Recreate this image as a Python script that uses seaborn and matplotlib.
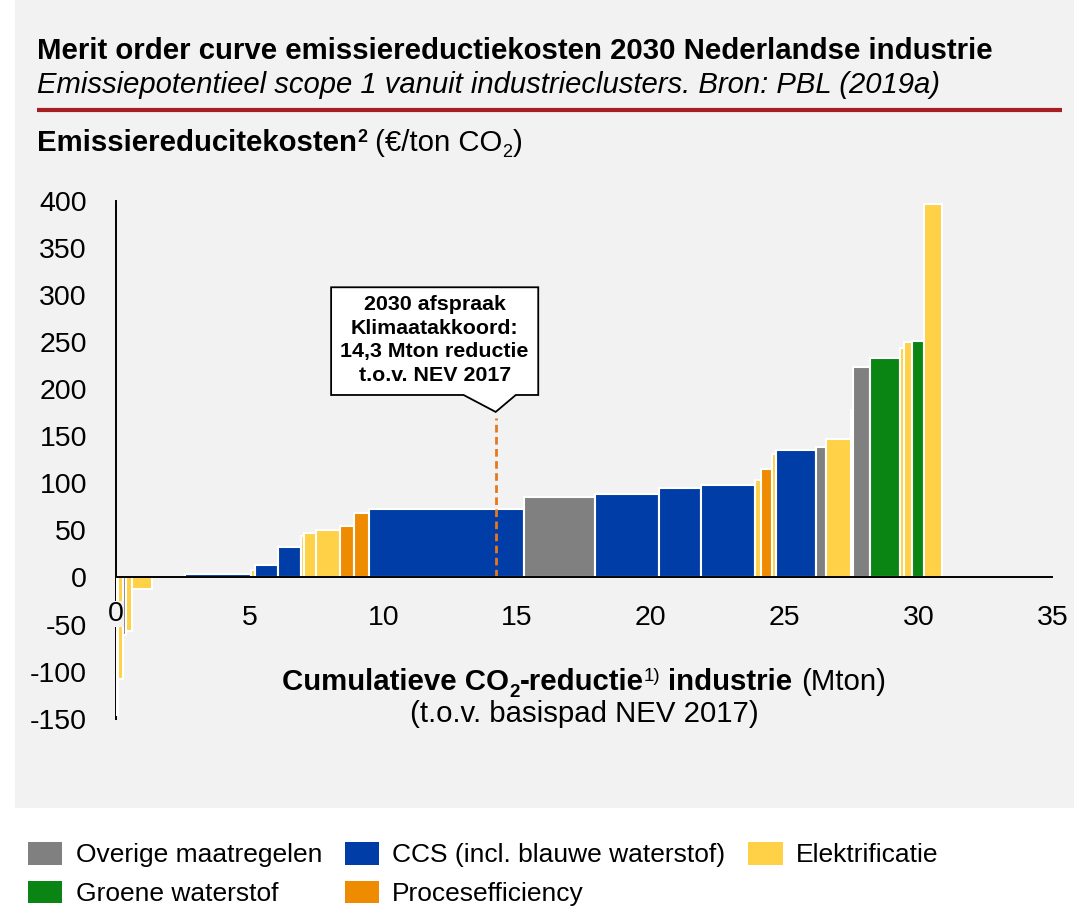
import numpy as np
import pandas as pd
import matplotlib
matplotlib.use("Agg")
import matplotlib.pyplot as plt
import seaborn as sns
from matplotlib.patches import Rectangle, Polygon, Patch
from matplotlib.lines import Line2D
from matplotlib.transforms import IdentityTransform

# ---------------- data ----------------
categories = ["Overige maatregelen", "CCS (incl. blauwe waterstof)", "Elektrificatie",
              "Groene waterstof", "Procesefficiency"]
bar_category = ["Elektrificatie", "Elektrificatie", "Overige maatregelen", "Elektrificatie", "Elektrificatie",
                "", "CCS (incl. blauwe waterstof)", "Elektrificatie", "CCS (incl. blauwe waterstof)",
                "CCS (incl. blauwe waterstof)", "Elektrificatie", "Elektrificatie", "Elektrificatie",
                "Procesefficiency", "Procesefficiency", "CCS (incl. blauwe waterstof)", "Overige maatregelen",
                "CCS (incl. blauwe waterstof)", "CCS (incl. blauwe waterstof)", "CCS (incl. blauwe waterstof)",
                "Elektrificatie", "Procesefficiency", "Elektrificatie", "CCS (incl. blauwe waterstof)",
                "Overige maatregelen", "Elektrificatie", "Elektrificatie", "Overige maatregelen",
                "Groene waterstof", "Elektrificatie", "Elektrificatie", "Groene waterstof", "Elektrificatie"]
bar_width_mton = [0.08, 0.19, 0.13, 0.21, 0.75,
                  1.23, 2.48, 0.13, 0.85,
                  0.87, 0.13, 0.45, 0.88,
                  0.52, 0.55, 5.81, 2.64,
                  2.39, 1.58, 2.02,
                  0.21, 0.43, 0.15, 1.49,
                  0.37, 0.92, 0.11, 0.62,
                  1.12, 0.13, 0.30, 0.45, 0.67]
bar_cost = [-146, -108, -61, -57, -12,
            0, 4, 8, 13.5,
            32.5, 44, 47, 51,
            55, 69, 72.5, 85.6,
            88.4, 95, 98.6,
            103.5, 115.5, 131, 135,
            138.6, 147, 178, 223.4,
            233, 244, 250, 251, 396.6]
target_mton = 14.2
x_ticks = [0, 5, 10, 15, 20, 25, 30, 35]
y_ticks = [-150, -100, -50, 0, 50, 100, 150, 200, 250, 300, 350, 400]

colors = {"Overige maatregelen": "#808080", "CCS (incl. blauwe waterstof)": "#003DA6",
          "Elektrificatie": "#FFD147", "Groene waterstof": "#0A8413", "Procesefficiency": "#EE8B00",
          "": "none"}

df = pd.DataFrame({"cat": bar_category, "width": bar_width_mton, "cost": bar_cost})
df["start"] = np.concatenate([[0], np.cumsum(df["width"].values)[:-1]])

# ---------------- style ----------------
sns.set_style("white")
plt.rcParams["font.family"] = ["Liberation Sans", "DejaVu Sans"]
plt.rcParams["lines.scale_dashes"] = False
for k in ["text.color", "axes.labelcolor", "xtick.color", "ytick.color", "axes.edgecolor"]:
    plt.rcParams[k] = "black"

W, H = 1074, 909
fig = plt.figure(figsize=(W / 100, H / 100), dpi=100)
fig.patch.set_facecolor("white")

PANEL = "#F2F2F2"
fig.add_artist(Rectangle((15 / W, 1 - 808 / H), 1 - 15 / W, 808 / H, transform=fig.transFigure,
                         facecolor=PANEL, edgecolor="none", zorder=-10))
fig.add_artist(Line2D([37 / W, 1062 / W], [1 - 110 / H] * 2, transform=fig.transFigure,
                      color="#A41E22", lw=3, solid_capstyle="butt"))

ax_l, ax_r, ax_t, ax_b = 115.7, 1052.3, 201.2, 718.6
ax = fig.add_axes([ax_l / W, 1 - ax_b / H, (ax_r - ax_l) / W, (ax_b - ax_t) / H])
ax.set_facecolor("none")

ax.bar(df["start"], df["cost"], width=df["width"], align="edge",
       color=[colors[c] for c in df["cat"]],
       edgecolor=[("white" if c else "none") for c in df["cat"]], linewidth=1.5, zorder=3)

ax.set_xlim(0, 35)
ax.set_ylim(-150, 400)
ax.set_xticks(x_ticks)
ax.set_xticklabels([("" if t == 0 else str(t)) for t in x_ticks])
ax.set_yticks(y_ticks)
ax.set_yticklabels([str(t) for t in y_ticks])
sns.despine(ax=ax, top=True, right=True)
ax.spines["bottom"].set_position(("data", 0))
for s in ["left", "bottom"]:
    ax.spines[s].set_linewidth(1.4)
    ax.spines[s].set_color("black")
ax.spines["bottom"].set_zorder(5)
ax.spines["left"].set_zorder(2)
ax.tick_params(axis="both", labelsize=20.5, length=7.2, width=1.4, direction="out", color="black",
               labelcolor="black")
ax.tick_params(axis="y", pad=13.5)
ax.tick_params(axis="x", pad=12.6)
ax.grid(False)

# x tick label "0" drawn with a tight background (interrupts spine and thin bars)
ax.text(0, -38.8, "0", ha="center", va="center", fontsize=20.5, zorder=6,
        bbox=dict(facecolor=PANEL, edgecolor="none", pad=0.0))

# dashed target line and callout
line_top = 169.5
ax.plot([target_mton, target_mton], [0, line_top], color="#E5781E", lw=2.0, dashes=(5.5, 3.2), zorder=4)
bx0, bx1, by0, by1 = 8.05, 15.79, 194, 308.5
tip_y = 176
callout = Polygon([(bx0, by1), (bx1, by1), (bx1, by0), (target_mton + 0.75, by0), (target_mton, tip_y),
                   (target_mton - 1.2, by0), (bx0, by0)], closed=True, facecolor="white",
                  edgecolor="black", lw=1.3, zorder=4)
ax.add_patch(callout)
ax.text((bx0 + bx1) / 2, (by0 + by1) / 2 + 1,
        "2030 afspraak\nKlimaatakkoord:\n14,3 Mton reductie\nt.o.v. NEV 2017",
        ha="center", va="center", fontsize=15.4, fontweight="bold", linespacing=1.3, zorder=5)

# ---------------- rich text helper ----------------
renderer = fig.canvas.get_renderer()


def measure(s, size, weight="normal", style="normal"):
    t = fig.text(0, 0, s, fontsize=size, fontweight=weight, fontstyle=style)
    w = t.get_window_extent(renderer).width
    t.remove()
    return w


def rich(segments, x, y_top_px, ha="left"):
    # segments: (text, size, weight, dy_px, space_before)
    widths = []
    for s, size, weight, dy, sp in segments:
        gap = (measure("a a", size, weight) - measure("aa", size, weight)) if sp else 0
        widths.append((gap, measure(s, size, weight)))
    total = sum(g + w for g, w in widths)
    cx = x - total / 2 if ha == "center" else x
    yb = H - y_top_px
    for (s, size, weight, dy, sp), (g, w) in zip(segments, widths):
        cx += g
        fig.text(cx, yb + dy, s, fontsize=size, fontweight=weight, ha="left", va="baseline",
                 transform=IdentityTransform())
        cx += w


# titles
fig.text(37 / W, 1 - 59 / H, "Merit order curve emissiereductiekosten 2030 Nederlandse industrie",
         fontsize=21.2, fontweight="bold", ha="left", va="baseline")
fig.text(37 / W, 1 - 93 / H, "Emissiepotentieel scope 1 vanuit industrieclusters. Bron: PBL (2019a)",
         fontsize=21.1, fontstyle="italic", ha="left", va="baseline")

rich([("Emissiereducitekosten", 21.2, "bold", 0, False),
      ("2", 13, "bold", 9, False),
      ("(€/ton CO", 21.2, "normal", 0, True),
      ("2", 13, "normal", -6, False),
      (")", 21.2, "normal", 0, False)], 37, 151)

rich([("Cumulatieve CO", 21.2, "bold", 0, False),
      ("2", 13.5, "bold", -7, False),
      ("-reductie", 21.2, "bold", 0, False),
      ("1)", 13.5, "normal", 9, False),
      ("industrie", 21.2, "bold", 0, True),
      ("(Mton)", 21.2, "normal", 0, True)], 584, 690, ha="center")
rich([("(t.o.v. basispad NEV 2017)", 21.2, "normal", 0, False)], 584, 722, ha="center")

# legend
order = ["Overige maatregelen", "Groene waterstof", "CCS (incl. blauwe waterstof)",
         "Procesefficiency", "Elektrificatie"]
handles = [Patch(facecolor=colors[c], edgecolor="none", label=c) for c in order]
fig.legend(handles=handles, ncol=3, frameon=False, loc="upper left",
           bbox_to_anchor=(28 / W, 1 - 842 / H), fontsize=19, handlelength=1.3, handleheight=0.95,
           handletextpad=0.5, columnspacing=0.87, labelspacing=0.5, borderpad=0, borderaxespad=0)

fig.savefig("out.png", dpi=100, facecolor="white")
